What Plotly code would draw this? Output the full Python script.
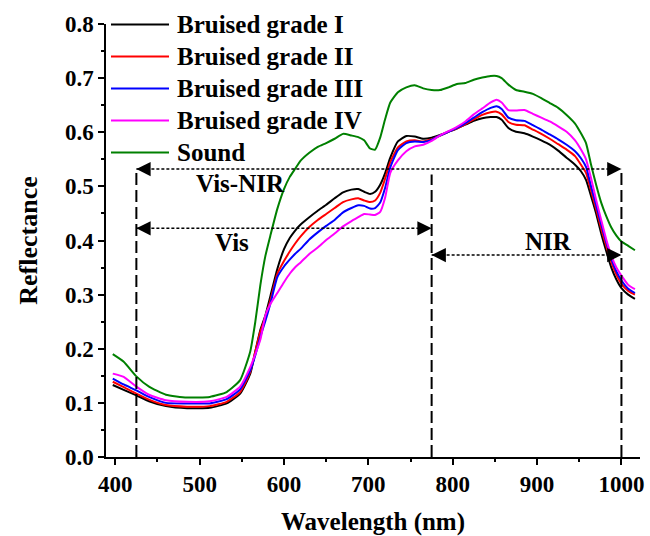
import plotly.graph_objects as go

# ---------------- data ----------------
wavelength = [397, 410, 425, 440, 460, 485, 512, 532, 548, 560, 566, 572, 578, 584, 592,
              600, 607, 613, 620, 630, 640, 650, 660, 670, 680, 688, 695, 702, 708, 714,
              720, 726, 735, 745, 755, 765, 775, 785, 795, 805, 815, 825, 835, 845, 852,
              858, 866, 875, 885, 895, 905, 915, 925, 935, 945, 952, 958, 964, 970, 976,
              982, 988, 994, 1000, 1008, 1016]

grade_I = [0.133, 0.124, 0.114, 0.103, 0.094, 0.090, 0.091, 0.099, 0.117, 0.154, 0.195, 0.235,
           0.262, 0.298, 0.347, 0.384, 0.405, 0.418, 0.430, 0.443, 0.455, 0.466, 0.478, 0.489,
           0.494, 0.495, 0.490, 0.486, 0.490, 0.503, 0.525, 0.553, 0.583, 0.593, 0.592, 0.588,
           0.590, 0.595, 0.601, 0.607, 0.614, 0.621, 0.626, 0.628, 0.628, 0.623, 0.608, 0.601,
           0.598, 0.592, 0.585, 0.577, 0.566, 0.553, 0.540, 0.528, 0.512, 0.482, 0.450, 0.413,
           0.380, 0.350, 0.328, 0.312, 0.300, 0.292]

grade_II = [0.139, 0.129, 0.117, 0.106, 0.096, 0.093, 0.094, 0.102, 0.120, 0.157, 0.195, 0.232,
            0.258, 0.290, 0.338, 0.362, 0.380, 0.394, 0.408, 0.425, 0.438, 0.449, 0.460, 0.471,
            0.476, 0.478, 0.474, 0.471, 0.474, 0.488, 0.515, 0.545, 0.572, 0.583, 0.585, 0.583,
            0.587, 0.594, 0.601, 0.607, 0.615, 0.624, 0.632, 0.637, 0.638, 0.633, 0.619, 0.614,
            0.613, 0.605, 0.597, 0.588, 0.578, 0.568, 0.556, 0.540, 0.525, 0.492, 0.458, 0.422,
            0.390, 0.360, 0.337, 0.320, 0.307, 0.300]

grade_III = [0.145, 0.134, 0.123, 0.111, 0.100, 0.099, 0.099, 0.107, 0.125, 0.160, 0.188, 0.222,
             0.252, 0.284, 0.332, 0.352, 0.365, 0.375, 0.385, 0.402, 0.415, 0.427, 0.438, 0.452,
             0.460, 0.465, 0.464, 0.459, 0.460, 0.470, 0.498, 0.535, 0.567, 0.580, 0.583, 0.582,
             0.586, 0.594, 0.601, 0.608, 0.617, 0.627, 0.637, 0.645, 0.648, 0.643, 0.627, 0.622,
             0.621, 0.613, 0.605, 0.596, 0.587, 0.577, 0.565, 0.552, 0.536, 0.500, 0.465, 0.430,
             0.397, 0.366, 0.343, 0.326, 0.311, 0.303]

grade_IV = [0.154, 0.148, 0.130, 0.115, 0.105, 0.102, 0.103, 0.111, 0.130, 0.166, 0.190, 0.217,
            0.262, 0.283, 0.303, 0.323, 0.339, 0.350, 0.360, 0.375, 0.387, 0.401, 0.413, 0.426,
            0.436, 0.443, 0.449, 0.448, 0.447, 0.453, 0.480, 0.525, 0.548, 0.565, 0.574, 0.577,
            0.584, 0.594, 0.602, 0.610, 0.620, 0.633, 0.644, 0.655, 0.660, 0.655, 0.641, 0.640,
            0.641, 0.634, 0.627, 0.620, 0.611, 0.601, 0.585, 0.568, 0.550, 0.515, 0.475, 0.438,
            0.402, 0.372, 0.350, 0.335, 0.318, 0.310]

sound = [0.190, 0.176, 0.149, 0.130, 0.115, 0.110, 0.111, 0.120, 0.142, 0.195, 0.250, 0.318,
         0.372, 0.410, 0.458, 0.495, 0.518, 0.532, 0.548, 0.562, 0.573, 0.580, 0.588, 0.597,
         0.594, 0.591, 0.585, 0.570, 0.568, 0.590, 0.625, 0.655, 0.674, 0.683, 0.687, 0.681,
         0.678, 0.678, 0.683, 0.689, 0.691, 0.697, 0.701, 0.704, 0.704, 0.700, 0.688, 0.678,
         0.675, 0.671, 0.663, 0.654, 0.645, 0.632, 0.616, 0.598, 0.580, 0.540, 0.503, 0.470,
         0.445, 0.424, 0.409, 0.398, 0.390, 0.382]

series_names = ["Bruised grade I", "Bruised grade II", "Bruised grade III", "Bruised grade IV", "Sound"]
series_values = [grade_I, grade_II, grade_III, grade_IV, sound]
series_colors = ["#000000", "#FF0000", "#0000FF", "#FF00FF", "#008000"]

# region boundaries (nm) and arrow levels
region_bounds = [425, 775, 1000]
region_labels = ["Vis-NIR", "Vis", "NIR"]
arrow_levels = [0.532, 0.4225, 0.373]
label_pos = [(548, 0.506), (538, 0.397), (913, 0.399)]

x_ticks = [400, 500, 600, 700, 800, 900, 1000]
y_ticks = [0.0, 0.1, 0.2, 0.3, 0.4, 0.5, 0.6, 0.7, 0.8]

FONT = "Liberation Serif"
W, H = 650, 536
ML, MR, MT, MB = 106, 10, 24, 79
PW, PH = W - ML - MR, H - MT - MB


def px_x(px):
    return (px - ML) / PW


def px_y(py):
    return 1 - (py - MT) / PH


fig = go.Figure()
for name, vals, col in zip(series_names, series_values, series_colors):
    fig.add_trace(go.Scatter(x=wavelength, y=vals, mode="lines", name=name,
                             line=dict(color=col, width=2, shape="spline", smoothing=0.5),
                             showlegend=False))

b0, b1, b2 = region_bounds
# vertical dashed boundaries
for b, top in zip(region_bounds, [arrow_levels[0], arrow_levels[0] - 0.01, arrow_levels[0]]):
    fig.add_shape(type="line", x0=b, x1=b, y0=0, y1=top, xref="x", yref="y",
                  line=dict(color="black", width=2, dash="12px,5px"))

# dotted arrow lines
spans = [(b0, b2, arrow_levels[0]), (b0, b1, arrow_levels[1]), (b1, b2, arrow_levels[2])]
for xa, xb, yv in spans:
    fig.add_shape(type="line", x0=xa, x1=xb, y0=yv, y1=yv, xref="x", yref="y",
                  line=dict(color="black", width=1.5, dash="3px,2px"))
    fig.add_annotation(x=xa, y=yv, ax=15, ay=0, axref="pixel", ayref="pixel",
                       xref="x", yref="y", text="", showarrow=True,
                       arrowhead=2, arrowsize=1.9, arrowwidth=1.5, arrowcolor="black")
    fig.add_annotation(x=xb, y=yv, ax=-15, ay=0, axref="pixel", ayref="pixel",
                       xref="x", yref="y", text="", showarrow=True,
                       arrowhead=2, arrowsize=1.9, arrowwidth=1.5, arrowcolor="black")

for lab, (lx, ly) in zip(region_labels, label_pos):
    fig.add_annotation(x=lx, y=ly, text="<b>%s</b>" % lab, showarrow=False,
                       xref="x", yref="y", font=dict(family=FONT, size=25, color="black"))

# manual legend
leg_y = [24.5, 56.5, 88.5, 120.5, 152.5]
for name, col, ly in zip(series_names, series_colors, leg_y):
    fig.add_shape(type="line", xref="paper", yref="paper",
                  x0=px_x(111), x1=px_x(169), y0=px_y(ly), y1=px_y(ly),
                  line=dict(color=col, width=2.2))
    fig.add_annotation(xref="paper", yref="paper", x=px_x(175), y=px_y(ly),
                       xanchor="left", yanchor="middle", showarrow=False,
                       text="<b>%s</b>" % name, font=dict(family=FONT, size=25, color="black"))

axis_common = dict(showline=True, linecolor="black", linewidth=1.5, ticks="outside",
                   ticklen=6, tickwidth=1.5, tickcolor="black", showgrid=False, zeroline=False,
                   tickfont=dict(family=FONT, size=23, color="black"), mirror=False,
                   automargin=False)

fig.update_xaxes(range=[389, 1022], tickvals=x_ticks, ticktext=["<b>%d</b>" % v for v in x_ticks],
                 minor=dict(dtick=50, tick0=400, ticks="outside", ticklen=3, tickwidth=1.5, tickcolor="black"),
                 title=dict(text="<b>Wavelength (nm)</b>", font=dict(family=FONT, size=25, color="black"),
                            standoff=20),
                 **axis_common)
fig.update_yaxes(range=[0, 0.8], tickvals=y_ticks, ticktext=["<b>%.1f</b>" % v for v in y_ticks],
                 minor=dict(dtick=0.05, tick0=0, ticks="outside", ticklen=3, tickwidth=1.5, tickcolor="black"),
                 title=dict(text="<b>Reflectance</b>", font=dict(family=FONT, size=26, color="black"),
                            standoff=20),
                 **axis_common)

fig.update_layout(width=W, height=H, margin=dict(l=ML, r=MR, t=MT, b=MB),
                  plot_bgcolor="white", paper_bgcolor="white", showlegend=False)

fig.write_html("out.html")
